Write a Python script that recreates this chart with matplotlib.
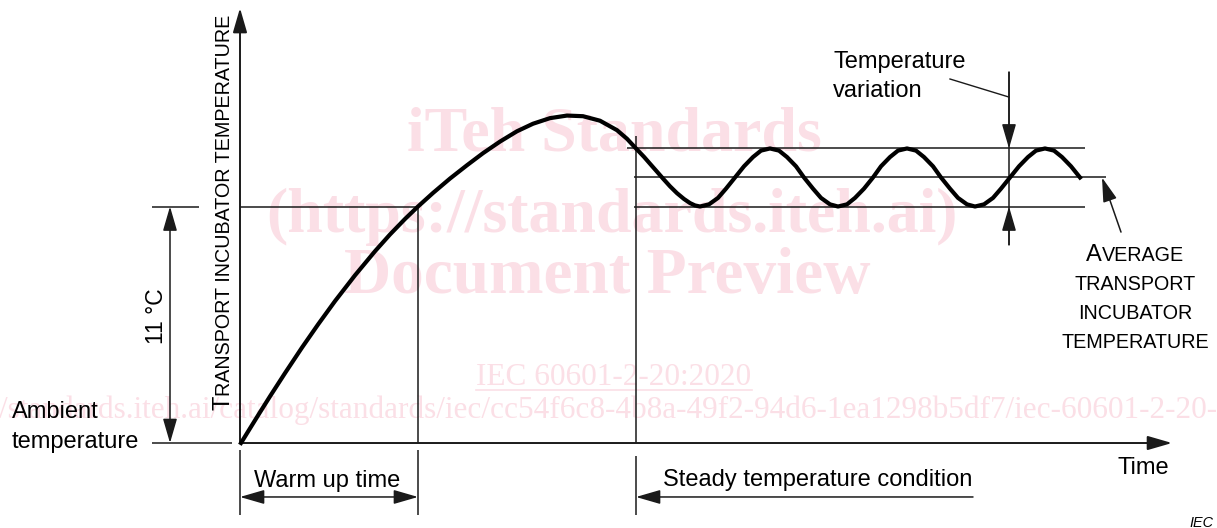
import matplotlib.pyplot as plt
from matplotlib.lines import Line2D

# Transport incubator warm-up curve (time in arbitrary units, temperature in degC above ambient)
time_pts = [0.1, 1.0, 2.0, 3.0, 4.5, 6.2, 7.8, 9.5, 11.5, 13.5,
            15.0, 16.5, 17.8, 19.3, 21.0, 22.7, 24.3, 26.0, 27.7, 29.3,
            31.0, 32.7, 34.3, 36.0, 37.7, 38.7, 39.6, 40.4, 41.0, 41.7,
            42.3, 43.0, 43.7, 44.4, 45.0, 45.5, 46.0,
            46.9, 47.8, 48.6, 49.5, 50.4, 51.3, 52.1, 53.0,
            53.9, 54.7, 55.6, 56.4, 57.3, 58.1, 59.0, 59.8,
            60.7, 61.5, 62.4, 63.3, 64.1, 65.0, 65.8, 66.7,
            67.6, 68.4, 69.3, 70.1, 71.0, 71.8, 72.7, 73.5,
            74.4, 75.3, 76.1, 77.0, 77.9, 78.8, 79.6, 80.5,
            81.4, 82.2, 83.1, 84.0]
temp_pts = [0.00, 0.68, 1.43, 2.17, 3.25, 4.44, 5.51, 6.60, 7.80, 8.92,
            9.70, 10.42, 11.00, 11.63, 12.30, 12.92, 13.48, 14.02, 14.50, 14.85,
            15.11, 15.23, 15.20, 14.99, 14.55, 14.15, 13.70, 13.31, 12.99, 12.62,
            12.30, 11.94, 11.62, 11.35, 11.16, 11.05, 11.00,
            11.10, 11.40, 11.83, 12.35, 12.87, 13.30, 13.60, 13.70,
            13.60, 13.30, 12.87, 12.35, 11.83, 11.40, 11.10, 11.00,
            11.10, 11.40, 11.83, 12.35, 12.87, 13.30, 13.60, 13.70,
            13.60, 13.30, 12.87, 12.35, 11.83, 11.40, 11.10, 11.00,
            11.10, 11.40, 11.83, 12.35, 12.87, 13.30, 13.60, 13.70,
            13.60, 13.30, 12.87, 12.35]

ambient = 0.0
rise = 11.0          # 11 degC above ambient
band_upper = 13.7
band_mean = 12.35
band_lower = 11.0
warmup_end = 17.8
steady_start = 39.6
time_max = 93.2
temp_max = 20.23

ink = '#1a1a1a'
wmColor = '#fbdfe6'
plt.rcParams['font.family'] = ['Liberation Sans', 'DejaVu Sans']

fig = plt.figure(figsize=(12.17, 5.28), dpi=100)
ax = fig.add_axes([0, 0, 1, 1])
ax.set_xlim(-24.0, 97.7)
ax.set_ylim(-3.953, 20.605)
ax.axis('off')

def fx(x):
    return x / 1217

def fy(y):
    return 1 - y / 528

def arrow(x0, y0, x1, y1, both=False, lw=1.1):
    style = '<|-|>' if both else '-|>'
    ax.annotate('', xy=(x1, y1), xytext=(x0, y0),
                arrowprops=dict(arrowstyle=style + ',head_length=1.0,head_width=0.29',
                                mutation_scale=15, lw=lw, color=ink,
                                shrinkA=0, shrinkB=0), zorder=3)

def hline(y, x0, x1, lw=1.1):
    ax.plot([x0, x1], [y, y], color=ink, lw=lw, solid_capstyle='butt', zorder=2)

def vline(x, y0, y1, lw=1.1):
    ax.plot([x, x], [y0, y1], color=ink, lw=lw, solid_capstyle='butt', zorder=2)

# watermark
wm = dict(transform=fig.transFigure, family=['Liberation Serif', 'DejaVu Serif'],
          color=wmColor, zorder=0, va='baseline')
ax.text(fx(614), fy(150), 'iTeh Standards', ha='center', fontsize=46, weight='bold', **wm)
ax.text(fx(612), fy(232), '(https://standards.iteh.ai)', ha='center', fontsize=46, weight='bold', **wm)
ax.text(fx(607), fy(293), 'Document Preview', ha='center', fontsize=47, weight='bold', **wm)
ax.text(fx(614), fy(385), 'IEC 60601-2-20:2020', ha='center', fontsize=22.5, **wm)
fig.add_artist(Line2D([fx(476), fx(752)], [fy(390), fy(390)], color=wmColor, lw=1.2, zorder=0))
ax.text(fx(-78), fy(418),
        'https://standards.iteh.ai/catalog/standards/iec/cc54f6c8-4b8a-49f2-94d6-1ea1298b5df7/iec-60601-2-20-2020',
        ha='left', fontsize=22.5, **wm)

# axes with arrows
arrow(0, ambient, 0, temp_max, lw=1.4)
arrow(0, ambient, time_max, ambient, lw=1.4)
hline(ambient, -8.8, -0.8)

# 11 degC dimension
hline(rise, -8.8, -4.1)
arrow(-7.0, ambient, -7.0, rise, both=True)

# warm-up reference lines
hline(rise, 0, warmup_end)
vline(warmup_end, ambient, rise)
vline(steady_start, ambient, band_upper + 0.6)

# steady band lines
hline(band_upper, 38.7, 84.5)
hline(band_mean, 39.4, 86.6)
hline(band_lower, 39.4, 84.5)

# temperature variation marker
vline(76.9, 9.21, 17.26)
arrow(76.9, 17.26, 76.9, band_upper)
arrow(76.9, 9.21, 76.9, band_lower)
ax.plot([71.0, 76.9], [16.93, 16.09], color=ink, lw=1.0, zorder=2)

# average arrow
arrow(88.1, 9.81, 86.2, band_mean)

# bottom dimensions
vline(0, -0.33, -3.35)
vline(warmup_end, -0.33, -3.35)
vline(steady_start, -0.6, -3.35)
arrow(0, -2.51, warmup_end, -2.51, both=True)
arrow(73.3, -2.51, steady_start, -2.51)

# curve
ax.plot(time_pts, temp_pts, color='black', lw=3.0, solid_joinstyle='round', zorder=4)

# labels
tx = dict(transform=fig.transFigure, color='black', va='baseline')
ax.text(fx(12), fy(418), 'Ambient', ha='left', fontsize=17, **tx)
ax.text(fx(12), fy(448), 'temperature', ha='left', fontsize=17, **tx)
ax.text(fx(163), fy(316), '11 °C', ha='center', rotation=90, rotation_mode='anchor',
        fontsize=16.5, **tx)
ax.text(fx(230), fy(410), 'T', ha='left', rotation=90, rotation_mode='anchor', fontsize=17, **tx)
ax.text(fx(230), fy(395.6), 'RANSPORT INCUBATOR TEMPERATURE', ha='left', rotation=90,
        rotation_mode='anchor', fontsize=14.2, **tx)
ax.text(fx(833), fy(68), 'Temperature', ha='left', fontsize=17, **tx)
ax.text(fx(833), fy(97), 'variation', ha='left', fontsize=17, **tx)
ax.text(fx(1086), fy(261), 'A', ha='left', fontsize=17, **tx)
ax.text(fx(1101.7), fy(261), 'VERAGE', ha='left', fontsize=14.2, **tx)
ax.text(fx(1135), fy(290), 'TRANSPORT', ha='center', fontsize=14.2, **tx)
ax.text(fx(1135), fy(319.3), 'INCUBATOR', ha='center', fontsize=14.2, **tx)
ax.text(fx(1135), fy(348.3), 'TEMPERATURE', ha='center', fontsize=14.2, **tx)
ax.text(fx(327), fy(487), 'Warm up time', ha='center', fontsize=17, **tx)
ax.text(fx(663), fy(486), 'Steady temperature condition', ha='left', fontsize=17, **tx)
ax.text(fx(1118), fy(474), 'Time', ha='left', fontsize=17, **tx)
ax.text(fx(1213), fy(527), 'IEC', ha='right', fontsize=10.4, style='italic', **tx)

plt.savefig('out.png', dpi=100)
